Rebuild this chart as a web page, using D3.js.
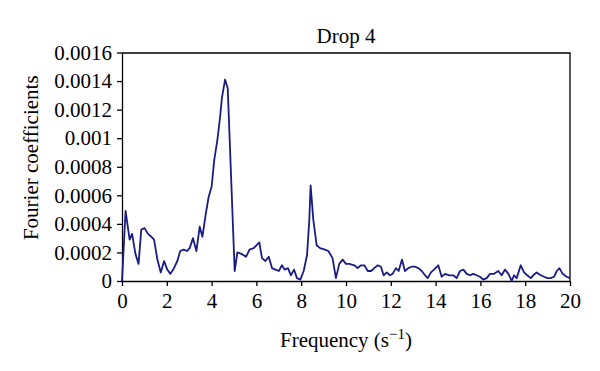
<!DOCTYPE html>
<html>
<head>
<meta charset="utf-8">
<script src="https://cdn.jsdelivr.net/npm/d3@7"></script>
<style>
  html, body { margin: 0; padding: 0; background: #fff; }
  svg { display: block; }
  text { font-family: "Liberation Serif", "DejaVu Serif", serif; fill: #000; }
</style>
</head>
<body>
<div id="chart"></div>
<script>
// ---- Data ----
const title = "Drop 4";
const xLabel = "Frequency (s";
const yLabel = "Fourier coefficients";
const xTicks = [0, 2, 4, 6, 8, 10, 12, 14, 16, 18, 20];
const yTicks = [0, 0.0002, 0.0004, 0.0006, 0.0008, 0.001, 0.0012, 0.0014, 0.0016];
const yTickLabels = ["0", "0.0002", "0.0004", "0.0006", "0.0008", "0.001", "0.0012", "0.0014", "0.0016"];

const frequency = [
  0.0, 0.16, 0.34, 0.45, 0.6, 0.74, 0.86, 1.01, 1.16, 1.31, 1.43, 1.58, 1.73, 1.88, 2.02, 2.16,
  2.32, 2.47, 2.6, 2.75, 2.9, 3.02, 3.17, 3.32, 3.47, 3.59, 3.74, 3.87, 4.0, 4.12, 4.26, 4.38,
  4.46, 4.6, 4.72, 5.03, 5.15, 5.33, 5.54, 5.69, 5.88, 6.0, 6.13, 6.25, 6.4, 6.55, 6.7, 6.85,
  7.0, 7.14, 7.26, 7.41, 7.54, 7.68, 7.81, 7.96, 8.11, 8.26, 8.36, 8.42, 8.54, 8.69, 8.84, 9.06,
  9.21, 9.4, 9.55, 9.7, 9.85, 10.0, 10.15, 10.37, 10.52, 10.67, 10.82, 10.97, 11.12, 11.26, 11.42, 11.56,
  11.68, 11.82, 11.96, 12.08, 12.23, 12.35, 12.5, 12.63, 12.78, 12.93, 13.08, 13.23, 13.38, 13.53, 13.65, 13.79,
  13.93, 14.12, 14.27, 14.42, 14.61, 14.79, 14.94, 15.09, 15.24, 15.39, 15.54, 15.68, 15.83, 15.98, 16.13, 16.28,
  16.43, 16.61, 16.8, 16.95, 17.1, 17.25, 17.4, 17.5, 17.62, 17.8, 17.95, 18.09, 18.25, 18.36, 18.51, 18.69,
  18.84, 18.99, 19.14, 19.29, 19.41, 19.53, 19.67, 19.85, 20.0
];
const coefficient = [
  0.0, 0.00049, 0.00029, 0.00033, 0.00019, 0.00012, 0.00036, 0.00037, 0.00033, 0.00031, 0.00029, 0.00015, 0.00006, 0.00014, 0.00008, 0.00005,
  0.00009, 0.00014, 0.00021, 0.00022, 0.00021, 0.00023, 0.0003, 0.00021, 0.00038, 0.00031, 0.00047, 0.00059, 0.00066, 0.00085, 0.00099, 0.00115,
  0.00128, 0.00141, 0.00135, 0.00007, 0.0002, 0.00019, 0.00017, 0.00022, 0.00023, 0.00025, 0.00027, 0.00016, 0.00014, 0.00017, 0.00009, 0.00008,
  0.00007, 0.00011, 0.00008, 0.00009, 0.00004, 0.00008, 0.00002, 0.00001, 0.00007, 0.00018, 0.00042, 0.00067, 0.00043, 0.00025, 0.00023, 0.00022,
  0.00021, 0.00016, 0.00002, 0.00012, 0.00015, 0.00012, 0.00012, 0.00011, 0.00009, 0.00011, 0.00011, 0.00007, 0.00007, 0.00009, 0.00011, 0.0001,
  0.00004, 0.00006, 0.00004, 0.00005, 0.00009, 0.00007, 0.00015, 0.00007, 0.00009, 0.0001, 0.0001, 0.00009, 0.00007, 0.00004, 0.00002, 0.00006,
  0.00008, 0.00011, 0.00003, 0.00005, 0.00004, 0.00004, 0.00002, 0.00007, 0.00008, 0.00005, 0.00004, 0.00005, 0.00004, 0.00003, 0.00001, 0.00002,
  0.00005, 0.00005, 0.00007, 0.00004, 0.00008, 0.00005, 0.0, 0.00004, 0.00002, 0.00011, 0.00006, 0.00004, 0.00002, 0.00004, 0.00006, 0.00004,
  0.00003, 0.00002, 0.00002, 0.00003, 0.00007, 0.00009, 0.00005, 0.00003, 0.00002
];

// ---- Layout ----
const W = 600, H = 371;
const margin = { left: 122, right: 30, top: 52.5, bottom: 90 };
const iw = W - margin.left - margin.right;
const ih = H - margin.top - margin.bottom;

const svg = d3.select("#chart").append("svg")
  .attr("width", W).attr("height", H);

const x = d3.scaleLinear().domain([0, 20]).range([0, iw]);
const y = d3.scaleLinear().domain([0, 0.0016]).range([ih, 0]);

const g = svg.append("g").attr("transform", `translate(${margin.left},${margin.top})`);

// frame (top and right)
g.append("path")
  .attr("d", `M0,0.5H${iw}V${ih}`)
  .attr("fill", "none").attr("stroke", "#000").attr("stroke-width", 1.3);

const xAxis = g.append("g").attr("transform", `translate(0,${ih})`)
  .call(d3.axisBottom(x).tickValues(xTicks).tickSize(5).tickSizeOuter(0).tickPadding(5).tickFormat(d3.format("d")));
const yAxis = g.append("g")
  .call(d3.axisLeft(y).tickValues(yTicks).tickSize(5).tickSizeOuter(0).tickPadding(5)
    .tickFormat((d, i) => yTickLabels[i]));

[xAxis, yAxis].forEach(a => {
  a.selectAll("path, line").attr("stroke", "#000").attr("stroke-width", 1.3);
  a.selectAll("text").style("font-family", '"Liberation Serif", serif').style("font-size", "21px").attr("fill", "#000");
});
xAxis.selectAll("text").attr("dy", "0.82em");

// line
const line = d3.line()
  .x((d, i) => x(frequency[i]))
  .y((d) => y(d));
g.append("path")
  .datum(coefficient)
  .attr("d", line)
  .attr("fill", "none")
  .attr("stroke", "#1b1b86")
  .attr("stroke-width", 1.8)
  .attr("stroke-linejoin", "round");

// title
svg.append("text")
  .attr("x", margin.left + iw / 2).attr("y", 43)
  .attr("text-anchor", "middle").style("font-size", "21px")
  .text(title);

// x label with superscript
const xl = svg.append("text")
  .attr("x", margin.left + iw / 2).attr("y", 347)
  .attr("text-anchor", "middle").style("font-size", "21px");
xl.append("tspan").text(xLabel);
xl.append("tspan").attr("dy", -8).style("font-size", "15px").text("\u22121");
xl.append("tspan").attr("dy", 8).text(")");

// y label
svg.append("text")
  .attr("transform", `translate(38,${margin.top + ih / 2 - 9}) rotate(-90)`)
  .attr("text-anchor", "middle").style("font-size", "21px")
  .text(yLabel);
</script>
</body>
</html>
